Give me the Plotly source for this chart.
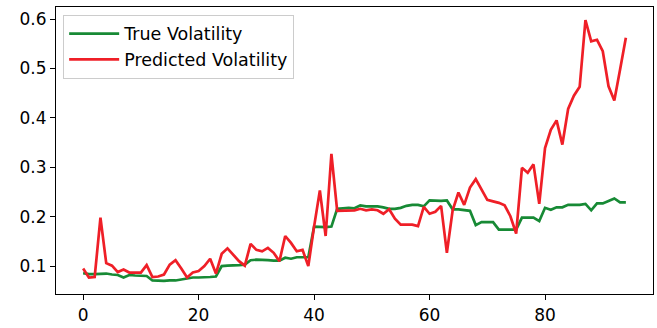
import plotly.graph_objects as go

x_index = list(range(95))

true_vol = [
    0.086, 0.084, 0.084, 0.085, 0.085, 0.083, 0.082, 0.077, 0.082, 0.081,
    0.080, 0.080, 0.071, 0.070, 0.070, 0.071, 0.071, 0.073, 0.075, 0.077,
    0.077, 0.077, 0.078, 0.079, 0.100, 0.101, 0.101, 0.102, 0.103, 0.112,
    0.113, 0.113, 0.112, 0.111, 0.111, 0.117, 0.115, 0.118, 0.118, 0.118,
    0.180, 0.179, 0.179, 0.180, 0.216, 0.217, 0.218, 0.217, 0.223, 0.221,
    0.221, 0.221, 0.219, 0.216, 0.216, 0.218, 0.222, 0.224, 0.224, 0.221,
    0.233, 0.232, 0.232, 0.233, 0.215, 0.215, 0.214, 0.212, 0.183, 0.189,
    0.189, 0.189, 0.174, 0.174, 0.174, 0.174, 0.198, 0.198, 0.198, 0.191,
    0.218, 0.214, 0.219, 0.219, 0.224, 0.224, 0.224, 0.226, 0.213, 0.227,
    0.227, 0.232, 0.237, 0.229, 0.229,
]

pred_vol = [
    0.095, 0.077, 0.078, 0.198, 0.106, 0.101, 0.088, 0.093, 0.087, 0.087,
    0.087, 0.102, 0.078, 0.079, 0.083, 0.103, 0.112, 0.095, 0.077, 0.087,
    0.090, 0.100, 0.115, 0.085, 0.125, 0.136, 0.123, 0.110, 0.101, 0.145,
    0.133, 0.130, 0.137, 0.127, 0.110, 0.161, 0.147, 0.130, 0.133, 0.100,
    0.180, 0.253, 0.161, 0.327, 0.212, 0.212, 0.213, 0.213, 0.216, 0.213,
    0.215, 0.213, 0.206, 0.215, 0.196, 0.184, 0.184, 0.184, 0.181, 0.220,
    0.206, 0.210, 0.222, 0.127, 0.213, 0.249, 0.224, 0.259, 0.276, 0.254,
    0.234, 0.231, 0.228, 0.223, 0.201, 0.166, 0.299, 0.289, 0.306, 0.226,
    0.339, 0.376, 0.395, 0.346, 0.418, 0.445, 0.463, 0.598, 0.555, 0.558,
    0.535, 0.464, 0.435, 0.498, 0.562,
]

x_ticks = [0, 20, 40, 60, 80]
y_ticks = [0.1, 0.2, 0.3, 0.4, 0.5, 0.6]
y_tick_labels = ["0.1", "0.2", "0.3", "0.4", "0.5", "0.6"]

FONT = "DejaVu Sans"

fig = go.Figure()
fig.add_trace(go.Scatter(x=x_index, y=true_vol, mode="lines", name="True Volatility",
                         line=dict(color="#178a35", width=2.7)))
fig.add_trace(go.Scatter(x=x_index, y=pred_vol, mode="lines", name="Predicted Volatility",
                         line=dict(color="#ef1f27", width=2.7)))

# matplotlib-style autoscale with 5% margins
n = len(x_index)
xpad = 0.05 * (n - 1)
ymin = min(min(true_vol), min(pred_vol))
ymax = max(max(true_vol), max(pred_vol))
ypad = 0.05 * (ymax - ymin)

axis_common = dict(showline=True, linecolor="black", linewidth=1.2, mirror=True,
                   ticks="outside", ticklen=5, tickwidth=1.2, tickcolor="black",
                   showgrid=False, zeroline=False,
                   tickfont=dict(family=FONT, size=17, color="black"))

fig.update_xaxes(range=[-xpad, n - 1 + xpad], tickvals=x_ticks, **axis_common)
fig.update_yaxes(range=[ymin - ypad, ymax + ypad], tickvals=y_ticks, ticktext=y_tick_labels,
                 **axis_common)

fig.update_layout(
    width=657, height=328,
    margin=dict(l=56, r=3, t=7, b=29),
    paper_bgcolor="white", plot_bgcolor="white",
    font=dict(family=FONT, size=17, color="black"),
    showlegend=True,
    legend=dict(x=0.012, y=0.973, xanchor="left", yanchor="top",
                bgcolor="rgba(255,255,255,0.8)", bordercolor="#cccccc", borderwidth=1,
                font=dict(family=FONT, size=17.5, color="black"),
                itemwidth=50, tracegroupgap=0),
)

fig.write_html("out.html",
               config={"displayModeBar": False},
               post_script="document.body.style.margin='0';document.body.style.padding='0';")
